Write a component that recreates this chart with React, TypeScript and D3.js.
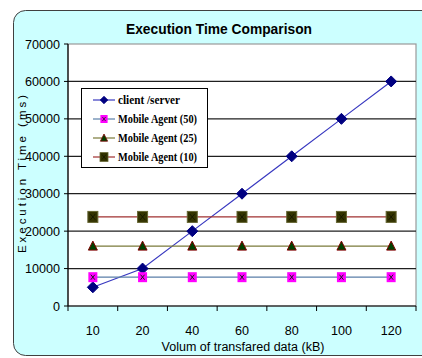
import React from "react";
import * as d3 from "d3";

const categories = ["10", "20", "40", "60", "80", "100", "120"];
const clientServer = [5000, 10000, 20000, 30000, 40000, 50000, 60000];
const mobileAgent50 = [7700, 7700, 7700, 7700, 7700, 7700, 7700];
const mobileAgent25 = [16000, 16000, 16000, 16000, 16000, 16000, 16000];
const mobileAgent10 = [23800, 23800, 23800, 23800, 23800, 23800, 23800];
const yTicks = [0, 10000, 20000, 30000, 40000, 50000, 60000, 70000];
const seriesNames = ["client /server", "Mobile Agent (50)", "Mobile Agent (25)", "Mobile Agent (10)"];

const W = 422, H = 358;
const L = 68, R = 416, T = 44, B = 306;

function Marker({ kind, x, y }: { kind: number; x: number; y: number }) {
  if (kind === 0) {
    const s = 5.5;
    return <path d={`M${x},${y - s}L${x + s},${y}L${x},${y + s}L${x - s},${y}Z`} fill="#000080" stroke="#000080" />;
  }
  if (kind === 1) {
    return (
      <g>
        <rect x={x - 4.5} y={y - 5} width={9} height={10} fill="#ff00ff" />
        <path d={`M${x - 2},${y - 2.5}L${x + 2},${y + 2.5}M${x + 2},${y - 2.5}L${x - 2},${y + 2.5}`} stroke="#202020" strokeWidth={1} />
      </g>
    );
  }
  if (kind === 2) {
    return <path d={`M${x},${y - 5}L${x + 4.5},${y + 4}L${x - 4.5},${y + 4}Z`} fill="#004000" stroke="#800000" strokeWidth={1} />;
  }
  return (
    <g>
      <rect x={x - 5} y={y - 5.5} width={10} height={11} fill="#333300" stroke="#666633" strokeWidth={1} />
      <path d={`M${x - 2.5},${y - 3}L${x + 2.5},${y + 3}M${x + 2.5},${y - 3}L${x - 2.5},${y + 3}`} stroke="#111100" strokeWidth={0.8} />
    </g>
  );
}

export default function App() {
  const x = d3.scalePoint<string>().domain(categories).range([L, R]).padding(0.5);
  const band = d3.scaleBand<string>().domain(categories).range([L, R]);
  const y = d3.scaleLinear().domain([0, 70000]).range([B, T]);
  const series = [clientServer, mobileAgent50, mobileAgent25, mobileAgent10];
  const lineColors = ["#3838c0", "#5a7ea8", "#7a7a3a", "#a03030"];
  const line = d3.line<number>().x((_, i) => x(categories[i]) as number).y((d) => y(d));
  const tickXs = categories.map((c) => band(c) as number).concat([R]);

  const legendX = 81, legendY = 88, legendW = 126, legendH = 79;
  const legendRows = [100, 119, 138, 157];

  return (
    <svg width={W} height={H} style={{ position: "absolute", left: 0, top: 0 }}>
      <rect x={0} y={0} width={W} height={H} fill="#ffffff" />
      <rect x={13.5} y={10.5} width={430} height={345} rx={12} fill="#ccffff" stroke="#404040" strokeWidth={1} />
      <text x={219} y={34} textAnchor="middle" fontFamily="Liberation Sans, Arial, sans-serif" fontWeight="bold" fontSize={15.5}
        textLength={186} lengthAdjust="spacingAndGlyphs" fill="#000">Execution Time Comparison</text>
      <rect x={L} y={T} width={R - L} height={B - T} fill="#ffffff" stroke="#999999" strokeWidth={1.2} />
      {yTicks.filter((t) => t > 0 && t < 70000).map((t) => (
        <line key={t} x1={L} x2={R} y1={y(t)} y2={y(t)} stroke="#202020" strokeWidth={1.2} />
      ))}
      <line x1={L} x2={L} y1={T} y2={B} stroke="#000" strokeWidth={1.2} />
      <line x1={L} x2={R} y1={B} y2={B} stroke="#000" strokeWidth={1.2} />
      {yTicks.map((t) => (
        <g key={t}>
          <line x1={L - 4} x2={L} y1={y(t)} y2={y(t)} stroke="#000" />
          <text x={60} y={y(t) + 4.5} textAnchor="end" fontFamily="Liberation Sans, Arial, sans-serif" fontSize={12.5}
            textLength={String(t).length * 7} lengthAdjust="spacingAndGlyphs" fill="#000">{t}</text>
        </g>
      ))}
      {tickXs.map((tx, i) => (
        <line key={i} x1={tx} x2={tx} y1={B} y2={B + 5} stroke="#000" />
      ))}
      {categories.map((c) => (
        <text key={c} x={x(c)} y={335} textAnchor="middle" fontFamily="Liberation Sans, Arial, sans-serif" fontSize={12.5}
          textLength={c.length * 7} lengthAdjust="spacingAndGlyphs" fill="#000">{c}</text>
      ))}
      <text x={243} y={351} textAnchor="middle" fontFamily="Liberation Sans, Arial, sans-serif" fontSize={12}
        textLength={163} lengthAdjust="spacingAndGlyphs" fill="#000">Volum of transfared data (kB)</text>
      <text transform="translate(25.5,174) rotate(-90)" textAnchor="middle" fontFamily="Liberation Sans, Arial, sans-serif" fontSize={11.5}
        textLength={158} lengthAdjust="spacing" fill="#000">Execution Time (ms)</text>
      {series.map((s, si) => (
        <path key={si} d={line(s) as string} fill="none" stroke={lineColors[si]} strokeWidth={1.2} />
      ))}
      {series.map((s, si) => s.map((v, i) => (
        <Marker key={`${si}-${i}`} kind={si} x={x(categories[i]) as number} y={y(v)} />
      )))}
      <rect x={legendX + 0.5} y={legendY + 0.5} width={legendW} height={legendH} fill="#ffffff" stroke="#000" strokeWidth={1} />
      {seriesNames.map((n, i) => (
        <g key={n}>
          <line x1={93} x2={115} y1={legendRows[i]} y2={legendRows[i]} stroke={lineColors[i]} strokeWidth={1.2} />
          <g transform={`translate(104,${legendRows[i]}) scale(${i === 0 ? 0.7 : 0.8}) translate(-104,${-legendRows[i]})`}>
            <Marker kind={i} x={104} y={legendRows[i]} />
          </g>
          <text x={118} y={legendRows[i] + 4} fontFamily="Liberation Serif, Times New Roman, serif" fontWeight="bold" fontSize={11.5}
            textLength={i === 0 ? 62 : 79} lengthAdjust="spacingAndGlyphs" fill="#000">{n}</text>
        </g>
      ))}
    </svg>
  );
}
